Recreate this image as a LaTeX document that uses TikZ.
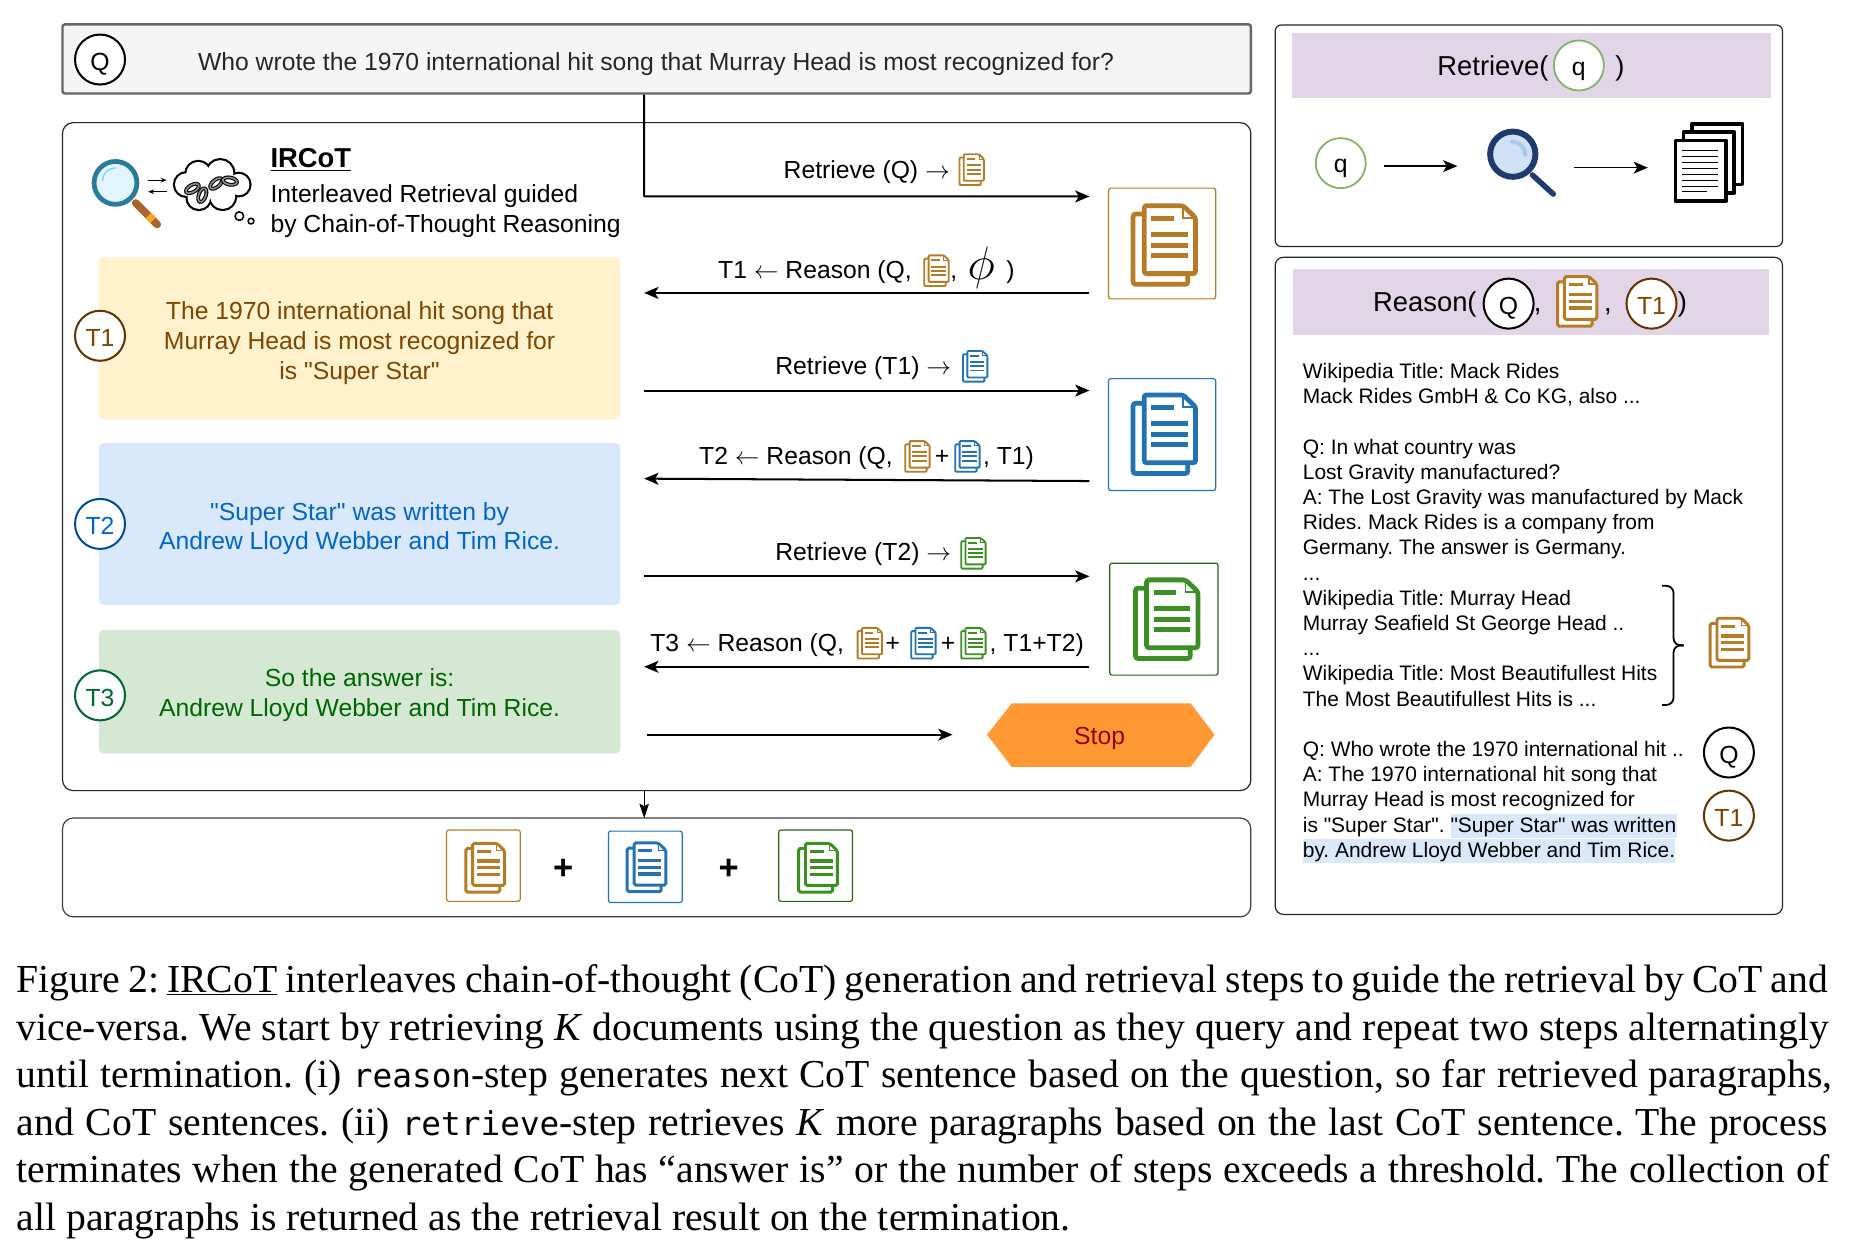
\documentclass[tikz,border=0pt]{standalone}
\usepackage{fontspec}
\setmainfont{Liberation Sans}[Ligatures=TeXOff]
\newfontfamily\capfont{Liberation Serif}
\newfontfamily\capmono{DejaVu Sans Mono}
\usetikzlibrary{arrows.meta}
\definecolor{docbrown}{HTML}{B47C26}
\definecolor{docblue}{HTML}{2272B4}
\definecolor{docgreen}{HTML}{3C8F22}
\definecolor{headpurple}{HTML}{E1D5E7}
\definecolor{tonefill}{HTML}{FFF2CC}
\definecolor{ttwofill}{HTML}{DAE8FC}
\definecolor{tthreefill}{HTML}{D5E8D4}
\definecolor{tonetext}{HTML}{7F4500}
\definecolor{ttwotext}{HTML}{0066CC}
\definecolor{tthreetext}{HTML}{006600}
\definecolor{tonering}{HTML}{663300}
\definecolor{ttworing}{HTML}{004C99}
\definecolor{tthreering}{HTML}{006633}
\definecolor{qgreen}{HTML}{82B366}
\definecolor{stopfill}{HTML}{FF9933}
\definecolor{stoptext}{HTML}{990000}
\definecolor{magnavy}{HTML}{1F3A6E}
\definecolor{magpale}{HTML}{D0E1F5}
\definecolor{maghi}{HTML}{A8C8EE}
\definecolor{magteal}{HTML}{2A7A9A}
\definecolor{handlebrown}{HTML}{A9652B}
\definecolor{handlegold}{HTML}{F5A623}
\newcommand{\fsz}[2]{\fontsize{#1}{#2}\selectfont}
\newcommand{\capm}[1]{{\capmono\fontsize{27.5}{40}\selectfont #1}}
\newcommand{\low}[2]{\raisebox{-#1pt}[\height][0pt]{#2}}
\tikzset{
 x=1pt,y=-1pt,
 arr/.style={line width=1.7pt,-{Stealth[length=12pt,width=10pt,inset=3pt]}},
 thinarr/.style={line width=1.4pt,-{Stealth[length=12pt,width=10pt,inset=3pt]}},
 downarr/.style={line width=1pt,-{Stealth[length=12pt,width=8pt,inset=2pt]}},
 frame/.style={draw=black!85,line width=1pt,rounded corners=9pt,fill=white,inner sep=0},
 tbox/.style={rounded corners=4pt,inner sep=0},
 ttxt/.style={inner sep=0,align=center,font=\fsz{20.75}{25}},
 circ/.style={circle,draw,fill=white,minimum size=42pt,inner sep=0,line width=1.7pt,font=\fsz{20.8}{25}},
 docbox/.style={draw=#1,fill=white,line width=1pt,rounded corners=2pt,inner sep=0},
 head/.style={fill=headpurple,inner sep=0},
 lab/.style={anchor=base west,inner sep=0,font=\fsz{20.75}{25}},
 biglab/.style={anchor=base west,inner sep=0,font=\fsz{23}{25}},
 capline/.style={anchor=base west,inner sep=0,font=\capfont\fsz{33.3}{40}},
 pics/docicon/.style 2 args={code={
  \pgfmathsetlengthmacro{\lw}{4pt*#2}
  \pgfmathsetlengthmacro{\rc}{2.2pt*#2}
  \begin{scope}[scale=#2,draw=#1,line width=\lw,rounded corners=\rc]
   \draw[fill=white] (2,9) rectangle (48,68);
   \draw[fill=white] (11.3,2) -- (44,2) -- (54.5,12) -- (54.5,59) -- (11.3,59) -- cycle;
   \draw[sharp corners,line width=\lw*0.4] (44,2) -- (44,12) -- (54.5,12);
   \draw[sharp corners,line width=\lw*1.05] (17.3,12.6) -- (36,12.6) (17.3,26) -- (48,26) (17.3,35) -- (48,35) (17.3,44) -- (48,44);
  \end{scope}
 }}
}
\begin{document}
\frenchspacing
\begin{tikzpicture}
\useasboundingbox[fill=white] (0,0) rectangle (1568,1057.4);
% question
\node[draw=black!60,fill=black!4,line width=2pt,rounded corners=2pt,minimum width=998pt,minimum height=58pt,inner sep=0] (qbox) at (551.5,49.5) {};
\node[circ] (qc) at (84,50) {\low{2.2}{Q}};
\node[inner sep=0,font=\fsz{20.75}{25},text=black!85] (qtext) at (551,53.5) {Who wrote the 1970 international hit song that Murray Head is most recognized for?};
% main frame
\node[frame,minimum width=998pt,minimum height=561pt] (main) at (551.5,383.5) {};
% IRCoT heading
\node[anchor=base west,inner sep=0,font=\bfseries\fsz{23}{25}] (irc) at (227,141) {\underline{IRCoT}};
\node[lab] (irla) at (227,170) {Interleaved Retrieval guided};
\node[lab] (irlb) at (227,195.5) {by Chain-of-Thought Reasoning};
% magnifier icon
\draw[line width=6.5pt,color=handlebrown,line cap=round] (114,170.5) -- (132,188.5);
\draw[line width=6.5pt,color=handlegold] (124.5,181) -- (128.5,185);
\draw[line width=4pt,draw=magteal,fill=cyan!12] (97,153.6) circle (18);
\draw[line width=1.2pt,draw=cyan!50] (86,152) arc (180:270:11);
% little arrows
\coordinate (sa1) at (124.4,151.3); \coordinate (sa2) at (140,151.3);
\coordinate (sa3) at (140,161); \coordinate (sa4) at (124.4,161);
\draw[line width=1pt,-{Stealth[length=5pt,width=4pt]}] (sa1) -- (sa2);
\draw[line width=1pt,-{Stealth[length=5pt,width=4pt]}] (sa3) -- (sa4);
% cloud
\foreach \a/\b/\r in {156.5/155/9.5,166.5/146/10,185/145.5/11,200.5/155/9,187/165/10.5,167/166/9.5}{
 \draw[line width=3.6pt] (\a,\b) circle (\r);
}
\foreach \a/\b/\r in {156.5/155/9.5,166.5/146/10,185/145.5/11,200.5/155/9,187/165/10.5,167/166/9.5,177/155/12}{
 \fill[white] (\a,\b) circle (\r);
}
\foreach \a/\b/\r in {161.6/158.3/30,169.9/163.9/70,181.5/154.1/40,193.1/152.1/-10}{
 \draw[line width=3.2pt,black,rotate around={\r:(\a,\b)}] (\a,\b) ellipse (6 and 3);
 \draw[line width=1.4pt,black!45,rotate around={\r:(\a,\b)}] (\a,\b) ellipse (6 and 3);
}
\draw[line width=1.3pt] (201,181.5) circle (3.6) (210.8,185.7) circle (2.4);
% T boxes
\node[tbox,fill=tonefill,minimum width=438pt,minimum height=136pt] (tonebox) at (302,284) {};
\node[ttxt,text=tonetext] (tonetxt) at (302,288) {The 1970 international hit song that\\Murray Head is most recognized for\\is "Super Star"};
\node[tbox,fill=ttwofill,minimum width=438pt,minimum height=136pt] (ttwobox) at (302,440) {};
\node[ttxt,text=ttwotext] (ttwotxt) at (302,444) {"Super Star" was written by\\Andrew Lloyd Webber and Tim Rice.};
\node[tbox,fill=tthreefill,minimum width=438pt,minimum height=104pt] (tthreebox) at (302,581) {};
\node[ttxt,text=tthreetext] (tthreetxt) at (302,584) {So the answer is:\\Andrew Lloyd Webber and Tim Rice.};
\node[circ,draw=tonering,text=tonetext] (tonec) at (84,282) {\low{1.7}{T1}};
\node[circ,draw=ttworing,text=ttwotext] (ttwoc) at (84,440) {\low{1.7}{T2}};
\node[circ,draw=tthreering,text=tthreering] (tthreec) at (84,584) {\low{1.7}{T3}};
% doc boxes
\node[docbox=docbrown,minimum width=90pt,minimum height=93pt] (dba) at (976,204.5) {};
\node[docbox=docblue,minimum width=90pt,minimum height=94pt] (dbb) at (976,365) {};
\node[docbox=docgreen!70!black,minimum width=91pt,minimum height=94pt] (dbc) at (977.5,520) {};
\pic at (949.6,170.8) {docicon={docbrown}{1}};
\pic at (949.6,329.7) {docicon={docblue}{1}};
\pic at (951.6,485) {docicon={docgreen}{1}};
% connectors
\coordinate (ra) at (915,165); \coordinate (lc) at (541,165);
\coordinate (lb) at (915,246); \coordinate (le) at (541,246);
\coordinate (rb) at (915,328); \coordinate (lf) at (541,328);
\coordinate (lg) at (915,404); \coordinate (lh) at (541,402);
\coordinate (rc) at (915,484); \coordinate (li) at (541,484);
\coordinate (lj) at (915,560); \coordinate (lk) at (541,560);
\coordinate (ll) at (543,617); \coordinate (rd) at (800,617);
\draw[arr,rounded corners=0.5pt] (qbox.south -| lc) -- (lc) -- (ra);
\draw[arr] (lb) -- (le);
\draw[arr] (lf) -- (rb);
\draw[arr] (lg) -- (lh);
\draw[arr] (li) -- (rc);
\draw[arr] (lj) -- (lk);
\draw[arr] (ll) -- (rd);
% labels
\node[lab] (lra) at (658,149.5) {Retrieve (Q) $\rightarrow$};
\pic at (805,128.8) {docicon={docbrown}{0.39}};
\node[lab] (lrb) at (603,234) {T1 $\leftarrow$ Reason (Q,};
\pic at (775.5,213.7) {docicon={docbrown}{0.39}};
\node[lab] (lrc) at (798,234) {,};
\node[inner sep=0,font=\fsz{20.75}{25},scale=1.9] (phi) at (824,225) {$\phi$};
\node[lab] (lrd) at (845,234) {)};
\node[lab] (lre) at (651,314.5) {Retrieve (T1) $\rightarrow$};
\pic at (808,294) {docicon={docblue}{0.39}};
\node[lab] (lrf) at (587,390) {T2 $\leftarrow$ Reason (Q,};
\pic at (759.5,369.7) {docicon={docbrown}{0.39}};
\node[lab] (lrg) at (785,390) {+};
\pic at (801.5,369.7) {docicon={docblue}{0.39}};
\node[lab] (lrh) at (825.5,390) {, T1)};
\node[lab] (lri) at (651,470.5) {Retrieve (T2) $\rightarrow$};
\pic at (806.5,451) {docicon={docgreen}{0.39}};
\node[lab] (lrj) at (546,547) {T3 $\leftarrow$ Reason (Q,};
\pic at (719.5,526.5) {docicon={docbrown}{0.39}};
\node[lab] (lrk) at (743.5,547) {+};
\pic at (764.5,526.5) {docicon={docblue}{0.39}};
\node[lab] (lrl) at (790,547) {+};
\pic at (806.5,526.5) {docicon={docgreen}{0.39}};
\node[lab] (lrm) at (831,547) {, T1+T2)};
% stop
\fill[stopfill] (829,617) -- (849.6,590.8) -- (1000,590.8) -- (1020,617) -- (1000,644) -- (849.6,644) -- cycle;
\node[inner sep=0,font=\fsz{20.75}{25},text=stoptext] (stop) at (923.5,620.5) {Stop};
% bottom
\node[frame,draw=black!75,minimum width=998pt,minimum height=83pt] (res) at (551.5,728.5) {};
\coordinate (mainout) at (541,664); \coordinate (resin) at (541,687);
\draw[downarr] (mainout) -- (resin);
\node[docbox=docbrown,minimum width=62pt,minimum height=60pt] (rba) at (406,727) {};
\node[docbox=docblue,minimum width=62pt,minimum height=60pt] (rbb) at (542,728) {};
\node[docbox=docgreen!70!black,minimum width=62pt,minimum height=60pt] (rbc) at (685,727) {};
\pic at (390,707) {docicon={docbrown}{0.62}};
\pic at (525.5,706.7) {docicon={docblue}{0.62}};
\pic at (669.5,707) {docicon={docgreen}{0.62}};
\node[inner sep=0,font=\bfseries\fsz{29}{29}] (pa) at (473,730) {+};
\node[inner sep=0,font=\bfseries\fsz{29}{29}] (pb) at (612,730) {+};
% retrieve panel
\node[frame,rounded corners=5pt,minimum width=426pt,minimum height=186pt] (rpanel) at (1284,114) {};
\node[head,minimum width=402pt,minimum height=54pt] (rhead) at (1286,55) {};
\node[biglab] (rht) at (1207,63) {Retrieve(};
\node[circ,draw=qgreen,line width=1.5pt] (qh) at (1326,55) {\low{2.5}{q}};
\node[biglab] (rhc) at (1356.5,63) {)};
\node[circ,draw=qgreen,line width=1.5pt] (qb) at (1126,137) {\low{2.5}{q}};
\coordinate (qaa) at (1162,139.5); \coordinate (qab) at (1224,139.5);
\coordinate (qac) at (1322,140.8); \coordinate (qad) at (1384,140.8);
\draw[thinarr] (qaa) -- (qab);
\draw[thinarr] (qac) -- (qad);
\draw[line width=4.6pt,draw=magnavy,line cap=round] (1287,147) -- (1304.5,163);
\draw[line width=5pt,draw=magnavy,fill=magpale] (1270.5,129.5) circle (19);
\draw[line width=3.4pt,draw=maghi,line cap=round] (1270,119) arc (270:360:11);
\foreach \o in {14,7,0}{
 \draw[line width=3pt,fill=white,line join=round] (1407+\o,118-\o) rectangle (1449.5+\o,169-\o);
}
\draw[line width=1.3pt] (1413,126.5)--(1443,126.5) (1413,131.5)--(1443,131.5) (1413,136.5)--(1443,136.5) (1413,141.5)--(1443,141.5) (1413,146.5)--(1443,146.5) (1413,151.5)--(1443,151.5) (1413,156.5)--(1443,156.5) (1413,161)--(1434,161);
% reason panel
\node[frame,rounded corners=7pt,minimum width=426pt,minimum height=552pt] (spanel) at (1284,492) {};
\node[head,minimum width=400pt,minimum height=55pt] (shead) at (1286,253.5) {};
\node[biglab] (sht) at (1153,262) {Reason(};
\node[circ] (sq) at (1267,255) {\low{2.2}{Q}};
\node[biglab] (shb) at (1288,262) {,};
\pic at (1306.8,231) {docicon={docbrown}{0.63}};
\node[biglab] (shc) at (1347,262) {,};
\node[circ,draw=tonering,text=tonetext] (st) at (1387,255) {\low{1.7}{T1}};
\node[biglab] (shd) at (1409,262) {)};
\fill[ttwofill] (1219,684) rectangle (1408.7,704);
\fill[ttwofill] (1094,705) rectangle (1407,725);
\node[anchor=north west,inner sep=0,align=left,font=\fsz{17.6}{21.16}] (stext) at (1094,305) {Wikipedia Title: Mack Rides\\
Mack Rides GmbH \& Co KG, also ...\\
\strut\\
Q: In what country was\\
Lost Gravity manufactured?\\
A: The Lost Gravity was manufactured by Mack\\
Rides. Mack Rides is a company from\\
Germany. The answer is Germany.\\
...\\
Wikipedia Title: Murray Head\\
Murray Seafield St George Head ..\\
...\\
Wikipedia Title: Most Beautifullest Hits\\
The Most Beautifullest Hits is ...\\
\strut\\
Q: Who wrote the 1970 international hit ..\\
A: The 1970 international hit song that\\
Murray Head is most recognized for\\
is "Super Star". "Super Star" was written\\
by. Andrew Lloyd Webber and Tim Rice.};
\draw[line width=1.5pt,rounded corners=6pt] (1396,492) -- (1405.5,492) -- (1405.5,542) -- (1414,542);
\draw[line width=1.5pt,rounded corners=6pt] (1396,592) -- (1405.5,592) -- (1405.5,542) -- (1414,542);
\pic at (1435,518) {docicon={docbrown}{0.62}};
\node[circ] (pq) at (1452,632) {\low{2.2}{Q}};
\node[circ,draw=tonering,text=tonetext] (pt) at (1452,685) {\low{1.7}{T1}};
% caption
\node[capline] (cla) at (14,833.5) {\hbox to 1521pt{Figure 2: \underline{IRCoT} interleaves chain-of-thought (CoT) generation and retrieval steps to guide the retrieval by CoT and}};
\node[capline] (clb) at (14,873.5) {\hbox to 1522pt{vice-versa. We start by retrieving \textit{K} documents using the question as they query and repeat two steps alternatingly}};
\node[capline] (clc) at (14,913.5) {\hbox to 1525pt{until termination. (i) \capm{reason}-step generates next CoT sentence based on the question, so far retrieved paragraphs,}};
\node[capline] (cld) at (14,953.5) {\hbox to 1521pt{and CoT sentences. (ii) \capm{retrieve}-step retrieves \textit{K} more paragraphs based on the last CoT sentence. The process}};
\node[capline] (cle) at (14,993.5) {\hbox to 1522pt{terminates when the generated CoT has “answer is” or the number of steps exceeds a threshold. The collection of}};
\node[capline] (clf) at (14,1033.5) {all paragraphs is returned as the retrieval result on the termination.};
\end{tikzpicture}
\end{document}
